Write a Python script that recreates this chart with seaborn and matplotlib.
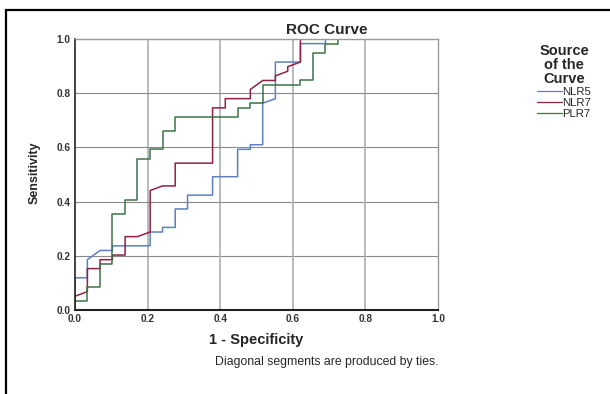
import pandas as pd
import matplotlib
matplotlib.use('Agg')
import matplotlib.pyplot as plt
from matplotlib.patches import Rectangle
import seaborn as sns

# ROC points (1 - specificity, sensitivity)
nlr5_fpr = [0, 0, 0.034, 0.034, 0.069, 0.103, 0.103, 0.207, 0.207, 0.241, 0.241, 0.276, 0.276,
            0.310, 0.310, 0.379, 0.379, 0.448, 0.448, 0.483, 0.483, 0.517, 0.517, 0.552, 0.552,
            0.621, 0.621, 0.690, 0.690, 1.0]
nlr5_tpr = [0, 0.119, 0.119, 0.186, 0.220, 0.220, 0.237, 0.237, 0.288, 0.288, 0.305, 0.305, 0.373,
            0.373, 0.424, 0.424, 0.492, 0.492, 0.593, 0.593, 0.610, 0.610, 0.763, 0.780, 0.915,
            0.915, 0.983, 0.983, 1.0, 1.0]

nlr7_fpr = [0, 0, 0.034, 0.034, 0.069, 0.069, 0.103, 0.103, 0.138, 0.138, 0.172, 0.207, 0.207,
            0.241, 0.276, 0.276, 0.379, 0.379, 0.414, 0.414, 0.483, 0.483, 0.517, 0.552, 0.552,
            0.586, 0.586, 0.621, 0.621, 1.0]
nlr7_tpr = [0, 0.051, 0.068, 0.153, 0.153, 0.186, 0.186, 0.203, 0.203, 0.271, 0.271, 0.288, 0.441,
            0.458, 0.458, 0.542, 0.542, 0.746, 0.746, 0.780, 0.780, 0.814, 0.847, 0.847, 0.864,
            0.881, 0.898, 0.915, 1.0, 1.0]

plr7_fpr = [0, 0, 0.034, 0.034, 0.069, 0.069, 0.103, 0.103, 0.138, 0.138, 0.172, 0.172, 0.207,
            0.207, 0.241, 0.241, 0.276, 0.276, 0.448, 0.448, 0.483, 0.483, 0.517, 0.517, 0.621,
            0.621, 0.655, 0.655, 0.690, 0.690, 0.724, 0.724, 1.0]
plr7_tpr = [0, 0.034, 0.034, 0.085, 0.085, 0.169, 0.169, 0.356, 0.356, 0.407, 0.407, 0.559, 0.559,
            0.593, 0.593, 0.661, 0.661, 0.712, 0.712, 0.746, 0.746, 0.763, 0.763, 0.831, 0.831,
            0.847, 0.847, 0.949, 0.949, 0.983, 0.983, 1.0, 1.0]

curve_names = ['NLR5', 'NLR7', 'PLR7']
curve_colors = ['#5d80c0', '#8e2242', '#3b7446']
ticks = [0.0, 0.2, 0.4, 0.6, 0.8, 1.0]

df = pd.concat([
    pd.DataFrame({'fpr': nlr5_fpr, 'tpr': nlr5_tpr, 'curve': 'NLR5'}),
    pd.DataFrame({'fpr': nlr7_fpr, 'tpr': nlr7_tpr, 'curve': 'NLR7'}),
    pd.DataFrame({'fpr': plr7_fpr, 'tpr': plr7_tpr, 'curve': 'PLR7'}),
], ignore_index=True)

sns.set_style('white')
plt.rcParams['font.family'] = ['Liberation Sans', 'DejaVu Sans']

fig = plt.figure(figsize=(6.1, 3.94), dpi=100)
ax = fig.add_axes([0.123, 0.213, 0.595, 0.688])

# grid first so the curves sit on top
for t in ticks[1:-1]:
    ax.axvline(t, color='#b4b4b4', lw=1.3, zorder=0)
    ax.axhline(t, color='#8a8a8a', lw=0.8, zorder=0)

sns.lineplot(data=df, x='fpr', y='tpr', hue='curve', hue_order=curve_names,
             palette=curve_colors, sort=False, estimator=None, lw=1.1, ax=ax)

ax.set_xlim(0, 1)
ax.set_ylim(0, 1)
ax.set_xticks(ticks)
ax.set_yticks(ticks)
ax.set_xticklabels([f'{t:.1f}' for t in ticks])
ax.set_yticklabels([f'{t:.1f}' for t in ticks])
ax.tick_params(length=0, labelsize=7.3, labelcolor='#333333', pad=3)
for lab in ax.get_xticklabels() + ax.get_yticklabels():
    lab.set_fontweight('bold')

ax.spines['top'].set_color('#9a9a9a')
ax.spines['right'].set_color('#9a9a9a')
ax.spines['top'].set_linewidth(1.0)
ax.spines['right'].set_linewidth(1.0)
ax.spines['left'].set_color('#222222')
ax.spines['bottom'].set_color('#222222')
ax.spines['left'].set_linewidth(1.2)
ax.spines['bottom'].set_linewidth(1.5)

ax.set_xlabel('')
ax.set_ylabel('')
fig.text(0.535, 0.925, 'ROC Curve', ha='center', va='center', fontsize=11, fontweight='bold')
fig.text(0.42, 0.137, '1 - Specificity', ha='center', va='center', fontsize=10.5, fontweight='bold')
fig.text(0.057, 0.561, 'Sensitivity', ha='center', va='center', rotation=90,
         fontsize=9, fontweight='bold', family=['Liberation Sans Narrow', 'Liberation Sans'])
fig.text(0.536, 0.081, 'Diagonal segments are produced by ties.', ha='center', va='center',
         fontsize=8.8)

sns.move_legend(ax, loc='upper left', bbox_to_anchor=(0.880, 0.888),
                bbox_transform=fig.transFigure, frameon=False,
                title='Source\nof the\nCurve', fontsize=8.2,
                title_fontproperties={'weight': 'bold', 'size': 10.5},
                handlelength=2.2, handletextpad=0.05, labelspacing=0.08,
                borderaxespad=0, borderpad=0)
leg = ax.get_legend()
leg.get_title().set_multialignment('center')
leg.get_title().set_linespacing(1.0)
for line in leg.get_lines():
    line.set_linewidth(0.9)

# outer frame of the exported chart
fig.add_artist(Rectangle((0.0098, -0.1), 1.2, 1.0746, transform=fig.transFigure,
                         fill=False, edgecolor='black', lw=1.6, clip_on=False))

fig.savefig('out.png', dpi=100)
